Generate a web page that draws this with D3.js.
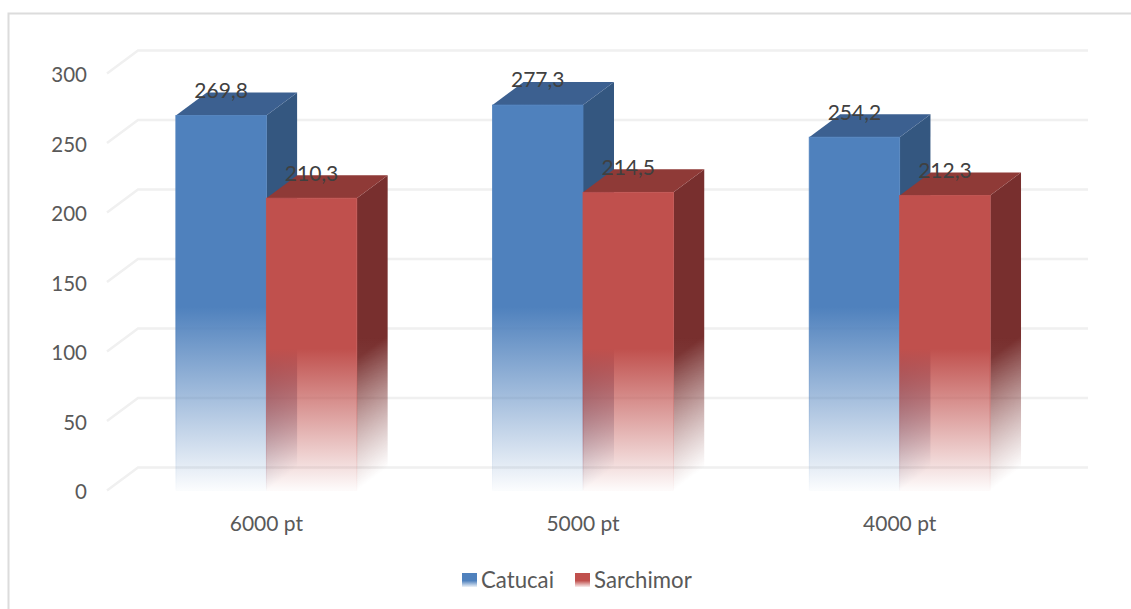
<!DOCTYPE html>
<html>
<head>
<meta charset="utf-8">
<script src="https://cdn.jsdelivr.net/npm/d3@7"></script>
<style>
html,body{margin:0;padding:0;background:#fff}
svg{display:block}
text{font-family:Lato,"Open Sans",sans-serif}
</style>
</head>
<body>
<div id="chart"></div>
<script>
const categories = ["6000 pt", "5000 pt", "4000 pt"];
const seriesNames = ["Catucai", "Sarchimor"];
const catucai = [269.8, 277.3, 254.2];
const sarchimor = [210.3, 214.5, 212.3];
const yTicks = [0, 50, 100, 150, 200, 250, 300];
const catucaiLabels = ["269,8", "277,3", "254,2"];
const sarchimorLabels = ["210,3", "214,5", "212,3"];

const W = 1131, H = 609;
const depthX = 31, depthY = -23;
const skewDeg = Math.atan2(depthY, depthX) * 180 / Math.PI;
const floorLeft = 107, floorRight = 1057;

const svg = d3.select("#chart").append("svg").attr("width", W).attr("height", H);

const y = d3.scaleLinear().domain([0, 300]).range([490.5, 73.5]);
const x0 = d3.scaleBand().domain(categories).range([floorLeft + 1, floorRight + 1]);
const x1 = d3.scaleBand().domain(seriesNames).range([0, x0.bandwidth()]).paddingInner(0).paddingOuter(0.75);

const palette = {
  Catucai:   {front: "#4f81bd", side: "#345780", top: "#3c6090", fadeFrom: 132},
  Sarchimor: {front: "#c0504d", side: "#782f2e", top: "#8f3a37", fadeFrom: 102}
};

const defs = svg.append("defs");

// Front faces dissolve vertically toward the floor
function verticalFade(id, color, from, endOpacity) {
  const g = defs.append("linearGradient").attr("id", id)
    .attr("gradientUnits", "userSpaceOnUse")
    .attr("x1", 0).attr("x2", 0).attr("y1", y(from)).attr("y2", y(0));
  g.append("stop").attr("offset", 0).attr("stop-color", color).attr("stop-opacity", 1);
  g.append("stop").attr("offset", 1).attr("stop-color", color).attr("stop-opacity", endOpacity);
}
seriesNames.forEach(s => {
  const p = palette[s];
  verticalFade("front-" + s, p.front, p.fadeFrom, 0.02);
  verticalFade("side-" + s, p.side, 110, 0.7);
});

// Fade for the skewed mask: follows the floor edge of a side face
const floorFade = defs.append("linearGradient").attr("id", "floor-fade")
  .attr("gradientUnits", "userSpaceOnUse")
  .attr("x1", 0).attr("x2", 0).attr("y1", y(95)).attr("y2", y(0));
floorFade.append("stop").attr("offset", 0).attr("stop-color", "#fff");
floorFade.append("stop").attr("offset", 1).attr("stop-color", "#000");

seriesNames.forEach(s => {
  const g = defs.append("linearGradient").attr("id", "key-" + s)
    .attr("x1", 0).attr("x2", 0).attr("y1", 0).attr("y2", 1);
  g.append("stop").attr("offset", 0.55).attr("stop-color", palette[s].front);
  g.append("stop").attr("offset", 1).attr("stop-color", palette[s].front).attr("stop-opacity", 0.1);
});

// Outer frame: only the top and left edges fall inside the canvas
svg.append("path").attr("d", `M${W},13.5H8.5V${H}`).attr("fill", "none")
  .attr("stroke", "#dcdcdc").attr("stroke-width", 2);

// Wall and floor gridlines
const gridLine = d3.line();
svg.append("g").selectAll("path").data(yTicks).join("path")
  .attr("d", t => gridLine([
    [floorLeft, y(t)],
    [floorLeft + depthX, y(t) + depthY],
    [floorRight + depthX, y(t) + depthY]
  ]))
  .attr("fill", "none").attr("stroke", "#f0f0f0").attr("stroke-width", 2.5);

// Axis labels
const yAxis = svg.append("g").attr("transform", "translate(87,0)")
  .call(d3.axisLeft(y).tickValues(yTicks).tickSize(0).tickPadding(0));
yAxis.select(".domain").remove();
yAxis.selectAll("text").attr("font-size", 20.5).attr("fill", "#595959").attr("dy", "0.4em").style("font-family", "Lato");

const xAxis = svg.append("g").attr("transform", "translate(0,516)")
  .call(d3.axisBottom(x0).tickSize(0).tickPadding(0));
xAxis.select(".domain").remove();
xAxis.selectAll("text").attr("font-size", 21).attr("fill", "#595959").attr("dy", "0.71em").style("font-family", "Lato");

// Columns: a side, top and front face for every value
const rows = seriesNames.flatMap((s, si) => categories.map((c, ci) => ({
  series: s, category: c, value: (si === 0 ? catucai : sarchimor)[ci],
  label: (si === 0 ? catucaiLabels : sarchimorLabels)[ci], order: ci * 10 + si
})));
const bw = x1.bandwidth();
const barX = d => x0(d.category) + x1(d.series);
const maskId = d => `side-mask-${d.order}`;

rows.forEach(d => {
  defs.append("mask").attr("id", maskId(d))
    .attr("maskUnits", "userSpaceOnUse")
    .attr("x", 0).attr("y", 0).attr("width", W).attr("height", H)
    .append("rect")
    .attr("transform", `translate(${barX(d) + bw},0) skewY(${skewDeg})`)
    .attr("x", 0).attr("width", depthX)
    .attr("y", y(d.value) - 1).attr("height", y(0) - y(d.value) + 1)
    .attr("fill", "url(#floor-fade)");
});

const bars = svg.append("g").selectAll("g")
  .data(rows.slice().sort((a, b) => a.order - b.order)).join("g");

bars.append("path")
  .attr("d", d => {
    const l = barX(d) + bw, t = y(d.value), b = y(0);
    return `M${l},${t}L${l + depthX},${t + depthY}L${l + depthX},${b + depthY}L${l},${b}Z`;
  })
  .attr("fill", d => `url(#side-${d.series})`)
  .attr("mask", d => `url(#${maskId(d)})`);

bars.append("path")
  .attr("d", d => {
    const l = barX(d), t = y(d.value);
    return `M${l},${t}L${l + bw},${t}L${l + bw + depthX},${t + depthY}L${l + depthX},${t + depthY}Z`;
  })
  .attr("fill", d => palette[d.series].top);

bars.append("rect")
  .attr("x", barX).attr("width", bw)
  .attr("y", d => y(d.value)).attr("height", d => y(0) - y(d.value))
  .attr("fill", d => `url(#front-${d.series})`)
  .attr("stroke", d => `url(#front-${d.series})`).attr("stroke-width", 0.8);

// Value labels sit above the front face, over the top of the column
svg.append("g").selectAll("text").data(rows).join("text")
  .attr("x", d => barX(d) + bw / 2)
  .attr("y", d => y(d.value) - 25)
  .attr("dy", "0.35em").attr("text-anchor", "middle")
  .attr("font-size", 21).attr("fill", "#404040")
  .text(d => d.label);

// Legend
const legendX = {Catucai: 462, Sarchimor: 575};
const legend = svg.append("g").selectAll("g").data(seriesNames).join("g")
  .attr("transform", s => `translate(${legendX[s]},573)`);
legend.append("rect").attr("width", 15).attr("height", 14).attr("fill", s => `url(#key-${s})`);
legend.append("text").attr("x", 19).attr("y", 7).attr("dy", "0.36em")
  .attr("font-size", 22.2).attr("fill", "#595959").text(s => s);
</script>
</body>
</html>
